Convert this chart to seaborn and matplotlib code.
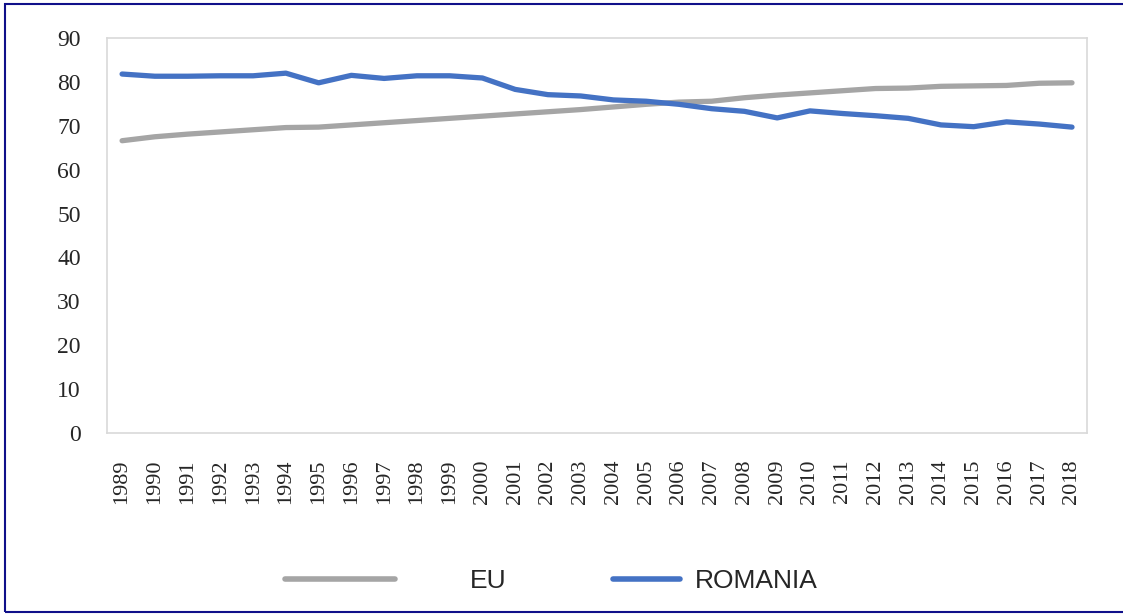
import matplotlib.pyplot as plt
import matplotlib.patches as mpatches
import pandas as pd
import seaborn as sns

years = list(range(1989, 2019))
eu = [66.6, 67.5, 68.1, 68.6, 69.1, 69.6, 69.7, 70.2, 70.7, 71.2,
      71.7, 72.2, 72.7, 73.2, 73.7, 74.3, 74.9, 75.4, 75.6, 76.4,
      77.0, 77.5, 78.0, 78.5, 78.6, 79.0, 79.1, 79.2, 79.7, 79.8]
romania = [81.8, 81.3, 81.3, 81.4, 81.4, 82.0, 79.8, 81.5, 80.8, 81.4,
           81.4, 80.9, 78.3, 77.1, 76.8, 75.9, 75.6, 74.9, 73.9, 73.3,
           71.8, 73.4, 72.8, 72.3, 71.7, 70.2, 69.8, 70.9, 70.4, 69.7]
series_names = ['EU', 'ROMANIA']
series_colors = ['#a5a5a5', '#4472c4']

df = pd.DataFrame({'year': years, 'EU': eu, 'ROMANIA': romania})
long_df = df.melt(id_vars='year', var_name='series', value_name='value')

sns.set_style('white')
plt.rcParams['font.family'] = ['Liberation Serif', 'DejaVu Serif']

fig = plt.figure(figsize=(11.23, 6.14), dpi=100)
ax = fig.add_axes([0.0953, 0.295, 0.8727, 0.643])

sns.lineplot(data=long_df, x='year', y='value', hue='series',
             hue_order=series_names, palette=series_colors,
             linewidth=3.8, ax=ax, legend=False)

ax.set_xlim(years[0] - 0.46, years[-1] + 0.46)
ax.set_ylim(0, 90)
ax.set_yticks(range(0, 91, 10))
ax.set_xticks(years)
ax.set_xticklabels([str(y) for y in years], rotation=90)
ax.tick_params(axis='y', labelsize=17, length=0, pad=19)
ax.tick_params(axis='x', labelsize=16, length=0, pad=19)
ax.set_xlabel('')
ax.set_ylabel('')
for sp in ax.spines.values():
    sp.set_color('#d9d9d9')
    sp.set_linewidth(1.2)

# legend: two entries placed separately, as in the source (uneven spacing)
leg_font = {'family': 'Liberation Sans', 'size': 19}
leg_opts = [(0.254, 4.17, 2.84), (0.546, 2.54, 0.57)]
for name, color, (x0, hlen, hpad) in zip(series_names, series_colors, leg_opts):
    h = plt.Line2D([], [], color=color, lw=4)
    fig.legend([h], [name], loc='center left', bbox_to_anchor=(x0, 0.053),
               frameon=False, handlelength=hlen, handletextpad=hpad,
               borderpad=0, borderaxespad=0, prop=leg_font)

# outer frame like the source figure
fig.patches.append(mpatches.Rectangle((0.0045, 0.004), 1.2, 0.99,
                                      transform=fig.transFigure, fill=False,
                                      edgecolor='#10108a', linewidth=1.5))

fig.savefig('out.png', dpi=100)
